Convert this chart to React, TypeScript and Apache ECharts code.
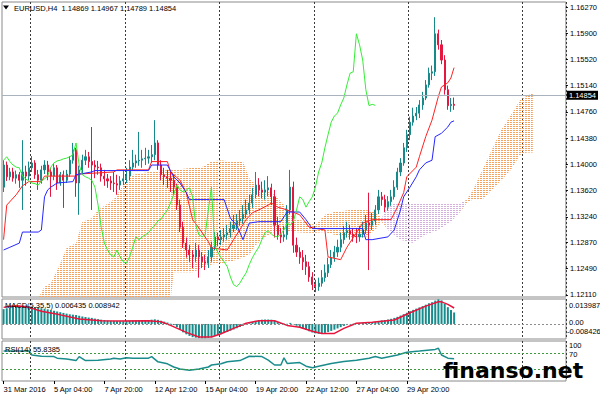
import React, { useEffect, useRef } from "react";
import * as echarts from "echarts";

const FONT = '"Liberation Sans", Arial, sans-serif';
const UP = "#16898b";
const DOWN = "#e3173f";

const symbol = "EURUSD";
const timeframe = "H4";
const SLOTS = 179;
const LABEL_EVERY = 16;
const timeLabels = ["31 Mar 2016", "5 Apr 04:00", "7 Apr 20:00", "12 Apr 12:00", "15 Apr 04:00", "19 Apr 20:00", "22 Apr 12:00", "27 Apr 04:00", "29 Apr 20:00"];
const separatorBars = [9, 39, 69, 99, 129, 165];
const priceTicks = [1.1627, 1.159, 1.1552, 1.1514, 1.1476, 1.1438, 1.14, 1.1362, 1.1324, 1.1287, 1.1249, 1.1211];
const currentPrice = 1.14854;

// [open, close, low, high]
const candles = [
  [1.1367, 1.1399, 1.136, 1.1406], [1.1399, 1.1382, 1.1376, 1.1404], [1.1382, 1.1389, 1.1377, 1.1395], [1.1389, 1.138, 1.1375, 1.1395],
  [1.138, 1.1385, 1.1372, 1.1391], [1.1385, 1.1377, 1.1366, 1.1389], [1.1377, 1.1389, 1.1334, 1.1435], [1.1389, 1.1383, 1.1369, 1.1398],
  [1.1383, 1.1395, 1.1377, 1.1404], [1.1395, 1.1402, 1.1389, 1.1412], [1.1402, 1.1385, 1.1379, 1.1406], [1.1385, 1.1377, 1.1363, 1.1392],
  [1.1377, 1.1392, 1.1372, 1.1398], [1.1392, 1.1399, 1.1386, 1.1406], [1.1399, 1.1389, 1.1377, 1.1405], [1.1389, 1.1383, 1.1353, 1.1395],
  [1.1383, 1.1395, 1.1377, 1.1402], [1.1395, 1.1373, 1.1363, 1.1399], [1.1373, 1.1385, 1.1369, 1.1389], [1.1385, 1.1377, 1.1337, 1.1391],
  [1.1377, 1.1386, 1.1373, 1.1392], [1.1386, 1.1406, 1.1382, 1.1412], [1.1406, 1.1421, 1.1401, 1.1431], [1.1421, 1.1373, 1.1353, 1.1424],
  [1.1373, 1.1392, 1.1327, 1.1398], [1.1392, 1.1406, 1.1385, 1.1414], [1.1406, 1.1411, 1.1399, 1.1421], [1.1411, 1.1404, 1.1395, 1.1418],
  [1.1404, 1.1399, 1.1334, 1.1454], [1.1399, 1.1396, 1.138, 1.1406], [1.1396, 1.1395, 1.1385, 1.1405], [1.1395, 1.1383, 1.1375, 1.1401],
  [1.1383, 1.1379, 1.1369, 1.1392], [1.1379, 1.1376, 1.1366, 1.1386], [1.1376, 1.1373, 1.1363, 1.1383], [1.1373, 1.1372, 1.136, 1.1389],
  [1.1372, 1.137, 1.1356, 1.1385], [1.137, 1.1376, 1.1363, 1.1383], [1.1376, 1.1379, 1.137, 1.1392], [1.1379, 1.1383, 1.1373, 1.1395],
  [1.1383, 1.1396, 1.1377, 1.1406], [1.1396, 1.1402, 1.1392, 1.1421], [1.1402, 1.1405, 1.1395, 1.1414], [1.1405, 1.1406, 1.1398, 1.1447],
  [1.1406, 1.1408, 1.1395, 1.1421], [1.1408, 1.1409, 1.1399, 1.1424], [1.1409, 1.1411, 1.1401, 1.1421], [1.1411, 1.1414, 1.1402, 1.1428],
  [1.1414, 1.1431, 1.1406, 1.1464], [1.1431, 1.1399, 1.1392, 1.1435], [1.1399, 1.1385, 1.1377, 1.1406], [1.1385, 1.1382, 1.137, 1.1395],
  [1.1382, 1.138, 1.1366, 1.1392], [1.138, 1.1377, 1.136, 1.1389], [1.1377, 1.1367, 1.1356, 1.1385], [1.1367, 1.1341, 1.1334, 1.1372],
  [1.1341, 1.1309, 1.1302, 1.1349], [1.1309, 1.1286, 1.1279, 1.1317], [1.1286, 1.1276, 1.1265, 1.1294], [1.1276, 1.1269, 1.1259, 1.1283],
  [1.1269, 1.1266, 1.125, 1.1276], [1.1266, 1.1276, 1.1259, 1.1286], [1.1276, 1.1266, 1.1236, 1.1283], [1.1266, 1.1259, 1.125, 1.1273],
  [1.1259, 1.1257, 1.1247, 1.1269], [1.1257, 1.1266, 1.125, 1.1276], [1.1266, 1.128, 1.1259, 1.1288], [1.128, 1.1295, 1.1276, 1.1302],
  [1.1295, 1.1291, 1.1282, 1.1301], [1.1291, 1.1295, 1.1283, 1.1305], [1.1295, 1.1298, 1.1288, 1.1308], [1.1298, 1.1301, 1.1291, 1.1312],
  [1.1301, 1.1307, 1.1294, 1.1317], [1.1307, 1.1312, 1.1302, 1.1327], [1.1312, 1.1318, 1.1305, 1.1328], [1.1318, 1.1321, 1.1311, 1.1334],
  [1.1321, 1.1328, 1.1314, 1.1341], [1.1328, 1.1334, 1.1322, 1.1349], [1.1334, 1.1344, 1.1328, 1.1356], [1.1344, 1.1356, 1.1337, 1.1366],
  [1.1356, 1.137, 1.1351, 1.1389], [1.137, 1.1363, 1.1354, 1.138], [1.1363, 1.136, 1.1351, 1.1375], [1.136, 1.1363, 1.1349, 1.1377],
  [1.1363, 1.1366, 1.1354, 1.1383], [1.1366, 1.1353, 1.1341, 1.1372], [1.1353, 1.1312, 1.1294, 1.1363], [1.1312, 1.1298, 1.1291, 1.1324],
  [1.1298, 1.1295, 1.1286, 1.1308], [1.1295, 1.1298, 1.1288, 1.1311], [1.1298, 1.1334, 1.1291, 1.1341], [1.1334, 1.1367, 1.1328, 1.1392],
  [1.1367, 1.1283, 1.1272, 1.1375], [1.1283, 1.1273, 1.1266, 1.1294], [1.1273, 1.1265, 1.1256, 1.128], [1.1265, 1.1259, 1.1247, 1.1276],
  [1.1259, 1.1252, 1.124, 1.1269], [1.1252, 1.1237, 1.123, 1.1259], [1.1237, 1.1226, 1.1218, 1.1244], [1.1226, 1.1223, 1.1215, 1.1233],
  [1.1223, 1.1228, 1.1217, 1.1236], [1.1228, 1.1236, 1.1223, 1.1247], [1.1236, 1.1243, 1.123, 1.1255], [1.1243, 1.1255, 1.1237, 1.1265],
  [1.1255, 1.1265, 1.125, 1.1276], [1.1265, 1.1273, 1.1259, 1.1282], [1.1273, 1.128, 1.1266, 1.1291], [1.128, 1.1291, 1.1273, 1.1301],
  [1.1291, 1.1301, 1.1285, 1.1311], [1.1301, 1.1304, 1.1294, 1.1317], [1.1304, 1.1299, 1.1291, 1.1312], [1.1299, 1.1296, 1.1288, 1.1308],
  [1.1296, 1.1295, 1.1286, 1.1308], [1.1295, 1.1299, 1.1288, 1.1311], [1.1299, 1.1305, 1.1294, 1.1317], [1.1305, 1.1315, 1.1299, 1.1327],
  [1.1315, 1.1312, 1.1247, 1.1359], [1.1312, 1.1318, 1.1305, 1.133], [1.1318, 1.1334, 1.1312, 1.1341], [1.1334, 1.1353, 1.1328, 1.1363],
  [1.1353, 1.1349, 1.134, 1.136], [1.1349, 1.1338, 1.1331, 1.1356], [1.1338, 1.1346, 1.1333, 1.1354], [1.1346, 1.1353, 1.134, 1.1363],
  [1.1353, 1.1367, 1.1349, 1.1377], [1.1367, 1.1389, 1.1363, 1.1395], [1.1389, 1.1402, 1.1383, 1.1409], [1.1402, 1.1424, 1.1398, 1.1431],
  [1.1424, 1.1443, 1.1418, 1.145], [1.1443, 1.1461, 1.1435, 1.1469], [1.1461, 1.147, 1.1456, 1.1482], [1.147, 1.1474, 1.1464, 1.1483],
  [1.1474, 1.1486, 1.1467, 1.1493], [1.1486, 1.1496, 1.1479, 1.1505], [1.1496, 1.1515, 1.1493, 1.1522], [1.1515, 1.1532, 1.1511, 1.154],
  [1.1532, 1.1534, 1.1522, 1.1543], [1.1534, 1.1589, 1.1528, 1.1613], [1.1589, 1.1573, 1.1566, 1.1595], [1.1573, 1.1551, 1.1545, 1.158],
  [1.1551, 1.1508, 1.1501, 1.1558], [1.1508, 1.1485, 1.1479, 1.1514], [1.1485, 1.14869, 1.1476, 1.1496], [1.14869, 1.14854, 1.14789, 1.14967],
];

// Ichimoku lines: [bar, price]
const tenkan = [
  [0, 1.1291], [1, 1.1341], [4, 1.1356], [6, 1.1369], [8, 1.1375], [12, 1.1375], [13, 1.1383], [23, 1.1383], [24, 1.1386], [35, 1.1389],
  [36, 1.1392], [46, 1.1392], [47, 1.1404], [52, 1.1404], [53, 1.1389], [56, 1.1377], [58, 1.1359], [60, 1.132], [62, 1.1308], [65, 1.1288],
  [66, 1.1279], [71, 1.1276], [73, 1.1291], [77, 1.132], [79, 1.133], [81, 1.1334], [84, 1.1341], [85, 1.1344], [87, 1.1338], [90, 1.1334],
  [94, 1.1327], [97, 1.1309], [102, 1.1305], [103, 1.1266], [107, 1.1262], [109, 1.128], [112, 1.1301], [114, 1.1315], [117, 1.132], [123, 1.132],
  [125, 1.1338], [127, 1.1359], [128, 1.1382], [131, 1.1396], [132, 1.1411], [134, 1.144], [136, 1.1464], [138, 1.1498], [139, 1.1512], [141, 1.1518],
  [142, 1.1525], [143, 1.154],
];
const kijun = [
  [0, 1.1276], [2, 1.128], [5, 1.1286], [6, 1.1302], [11, 1.1302], [12, 1.1305], [13, 1.1353], [14, 1.1363], [15, 1.1367], [17, 1.1373],
  [22, 1.1375], [23, 1.1385], [28, 1.1389], [29, 1.1391], [46, 1.1391], [47, 1.1399], [52, 1.1399], [54, 1.1382], [56, 1.1373], [58, 1.1359],
  [59, 1.1349], [70, 1.1349], [72, 1.1322], [74, 1.1312], [76, 1.1291], [78, 1.1315], [81, 1.1317], [88, 1.1317], [89, 1.1324], [90, 1.1331],
  [94, 1.1331], [96, 1.132], [98, 1.1307], [114, 1.1307], [115, 1.1291], [117, 1.1291], [122, 1.1295], [124, 1.1305], [126, 1.1334], [127, 1.1353],
  [129, 1.1367], [131, 1.1382], [132, 1.1392], [134, 1.1402], [136, 1.1406], [137, 1.144], [139, 1.1445], [141, 1.1454], [142, 1.1461], [143, 1.1463],
];
const CHIKOU_SHIFT = 25;
const cloudBars = [0, 10, 12, 13, 15, 18, 20, 23, 25, 28, 30, 35, 37, 39, 41, 46, 52, 54, 60, 63, 66, 69, 72, 76, 78, 80, 83, 86, 89, 92, 96, 99, 102, 105, 110, 115, 118, 120, 122, 126, 130, 134, 138, 142, 145, 147, 149, 152, 155, 158, 161, 164, 166, 168];
const senkouA = [1.1175, 1.1197, 1.1215, 1.1223, 1.1228, 1.1257, 1.1279, 1.1286, 1.1317, 1.1322, 1.1334, 1.1349, 1.1363, 1.1377, 1.1385, 1.1389, 1.1392, 1.1392, 1.1395, 1.1396, 1.1404, 1.1406, 1.1404, 1.1404, 1.138, 1.137, 1.1363, 1.1356, 1.1341, 1.1322, 1.1317, 1.1312, 1.1327, 1.1331, 1.1334, 1.1334, 1.1331, 1.1322, 1.1305, 1.1291, 1.1286, 1.1298, 1.1305, 1.1317, 1.1331, 1.1349, 1.1363, 1.1392, 1.1421, 1.145, 1.1471, 1.1493, 1.1499, 1.1503];
const senkouB = [1.1146, 1.1146, 1.1146, 1.1146, 1.1146, 1.1146, 1.1146, 1.1146, 1.1146, 1.1146, 1.1146, 1.1146, 1.1146, 1.1146, 1.1146, 1.1146, 1.116, 1.1244, 1.1244, 1.125, 1.1255, 1.1257, 1.1259, 1.1265, 1.1269, 1.1283, 1.1295, 1.1302, 1.1305, 1.1302, 1.1301, 1.1301, 1.1302, 1.1298, 1.1295, 1.1295, 1.1305, 1.1317, 1.1341, 1.1344, 1.1344, 1.1344, 1.1344, 1.1344, 1.1344, 1.1344, 1.1349, 1.1349, 1.1363, 1.1377, 1.1392, 1.1414, 1.1417, 1.1417];

const macdMain = [
  0.0083, 0.0088, 0.0093, 0.0097, 0.01, 0.0102, 0.0103, 0.0103, 0.0101, 0.0098,
  0.0095, 0.0092, 0.0088, 0.0085, 0.0082, 0.0078, 0.0074, 0.007, 0.0066, 0.0062, 0.0058,
  0.0054, 0.0052, 0.005, 0.0046, 0.0042, 0.0039, 0.0036, 0.0034,
  0.003, 0.0027, 0.0024, 0.0022, 0.002, 0.0018, 0.0017, 0.0016, 0.0015, 0.0015, 0.0016, 0.0018, 0.0019, 0.002, 0.002, 0.0021, 0.0021,
  0.0022, 0.0024, 0.0026, 0.0023, 0.0018, 0.0013, 0.0008,
  0.0002, -0.0006, -0.0018, -0.0032, -0.0047, -0.0058, -0.0067, -0.0074,
  -0.0077, -0.0079, -0.008, -0.008, -0.0078, -0.0074, -0.0068,
  -0.0063, -0.0057, -0.0051, -0.0045, -0.0038, -0.0031, -0.0024, -0.0017, -0.001,
  -0.0003, 0.0004, 0.0011, 0.0018, 0.0022, 0.0024, 0.0025, 0.0025, 0.0024, 0.0018,
  0.001, 0.0005, 0.0001, 0.0001, 0.0006, -0.0002, -0.001, -0.0018, -0.0026, -0.0033,
  -0.0041, -0.0048, -0.0053, -0.0055, -0.0054, -0.005, -0.0045, -0.0039,
  -0.0032, -0.0025, -0.0018, -0.0011, -0.0006, -0.0002, 0.0001, 0.0003,
  0.0004, 0.0006, 0.0008, 0.0008, 0.001, 0.0013, 0.0017, 0.002,
  0.0022, 0.0025, 0.0029, 0.0034, 0.004, 0.0047, 0.0055, 0.0063, 0.0071, 0.0079,
  0.0086, 0.0093, 0.01, 0.0108, 0.0116, 0.0122, 0.0131,
  0.0138, 0.0132, 0.0112, 0.0094, 0.0078, 0.006435,
];
const macdSignal = [
  [0, 0.0093], [2, 0.0099], [5, 0.01], [8, 0.0093], [12, 0.0071], [18, 0.0051], [24, 0.0028], [31, 0.0018], [37, 0.0017], [46, 0.0018],
  [50, 0.0012], [53, -0.0008], [58, -0.0047], [62, -0.0073], [66, -0.0073], [69, -0.0055], [73, -0.0025], [77, 0.0004], [81, 0.0018], [86, 0.0018],
  [90, -0.0008], [94, -0.0018], [98, -0.0041], [101, -0.0053], [105, -0.0053], [108, -0.0025], [112, 0.0004], [117, 0.001], [124, 0.0022], [129, 0.0063],
  [134, 0.01], [138, 0.0124], [139, 0.0124], [141, 0.011], [143, 0.008942],
];
const macdMax = 0.013987;
const macdMin = -0.008426;

const rsi = [
  [0, 75], [8, 75], [9, 65], [12, 62], [16, 61], [17, 57], [20, 55], [23, 51], [24, 61], [26, 51], [30, 52], [34, 55], [35, 57], [37, 55],
  [39, 58], [41, 57], [46, 57], [47, 61], [49, 48], [52, 43], [54, 35], [56, 30], [59, 27], [62, 30], [65, 35], [66, 40], [69, 43], [71, 48],
  [75, 51], [78, 62], [82, 61], [84, 52], [86, 40], [88, 40], [89, 58], [90, 44], [94, 46], [96, 37], [98, 33], [100, 37], [104, 44], [108, 49],
  [112, 52], [116, 57], [118, 61], [120, 57], [125, 65], [128, 72], [132, 75], [137, 79], [138, 82], [139, 65], [141, 57], [143, 55.8385],
];
const rsiLevels = [70, 30];

function dots(color: string) {
  const c = document.createElement("canvas");
  c.width = 3;
  c.height = 2;
  const ctx = c.getContext("2d") as CanvasRenderingContext2D;
  ctx.fillStyle = color;
  ctx.fillRect(0, 0, 2, 1);
  return { image: c, repeat: "repeat", imageWidth: 3, imageHeight: 2 } as any;
}

function buildOption() {
  const cats = Array.from({ length: SLOTS }, (_, i) => String(i));
  const labelInterval = (i: number) => i % LABEL_EVERY === 0 && i / LABEL_EVERY < timeLabels.length;
  const sepInterval = (i: number) => separatorBars.includes(i);
  const last = candles[candles.length - 1];
  const header = `${symbol},${timeframe}  ${last[0].toFixed(5)} ${last[3].toFixed(5)} ${last[2].toFixed(5)} ${last[1].toFixed(5)}`;
  const chikou = candles.slice(CHIKOU_SHIFT).map((c, j) => [j, c[1]]);
  const kumoBase = cloudBars.map((b, i) => [b, Math.min(senkouA[i], senkouB[i])]);
  const kumoUp = cloudBars.map((b, i) => [b, Math.max(senkouA[i] - senkouB[i], 0)]);
  const kumoDown = cloudBars.map((b, i) => [b, Math.max(senkouB[i] - senkouA[i], 0)]);
  const small = `7.5px ${FONT}`;

  const gridBase = { left: 2, right: 34, show: true, borderColor: "#8a8a8a", borderWidth: 1, backgroundColor: "#fff" };
  const xAx = (g: number) => ({
    type: "category",
    gridIndex: g,
    data: cats,
    boundaryGap: true,
    axisLine: { show: false },
    axisTick: g === 2 ? { show: true, interval: labelInterval, alignWithLabel: true, length: 3, lineStyle: { color: "#000" } } : { show: false },
    axisLabel: g === 2
      ? { show: true, interval: labelInterval, align: "left", margin: 4, fontSize: 7.5, color: "#000", fontFamily: FONT, formatter: (_v: string, i: number) => timeLabels[i / LABEL_EVERY] ?? "" }
      : { show: false },
    splitLine: { show: true, interval: sepInterval, lineStyle: { color: "#3a3a3a", type: [2, 2], width: 1 } },
  });

  const noLine = { width: 0, opacity: 0 };

  return {
    animation: false,
    backgroundColor: "#ffffff",
    grid: [
      { ...gridBase, top: 2, height: 295 },
      { ...gridBase, top: 299, height: 40 },
      { ...gridBase, top: 341, height: 40 },
    ],
    xAxis: [xAx(0), xAx(1), xAx(2)],
    yAxis: [
      {
        type: "value", gridIndex: 0, position: "right", min: 1.1208, max: 1.1635, scale: true,
        splitLine: { show: false }, axisLine: { show: false },
        axisTick: { show: true, customValues: priceTicks, length: 2, lineStyle: { color: "#000" } },
        axisLabel: { customValues: priceTicks, formatter: (v: number) => v.toFixed(5), margin: 4, fontSize: 7.5, color: "#000", fontFamily: FONT },
      },
      { type: "value", gridIndex: 1, min: macdMin, max: macdMax, show: false },
      { type: "value", gridIndex: 2, min: 0, max: 100, show: false },
    ],
    series: [
      { type: "line", xAxisIndex: 0, yAxisIndex: 0, stack: "kumo", data: kumoBase, symbol: "none", lineStyle: noLine, silent: true, z: 1 },
      { type: "line", xAxisIndex: 0, yAxisIndex: 0, stack: "kumo", data: kumoUp, symbol: "none", lineStyle: noLine, areaStyle: { color: dots("#f4a460"), opacity: 1 }, silent: true, z: 1 },
      { type: "line", xAxisIndex: 0, yAxisIndex: 0, stack: "kumo", data: kumoDown, symbol: "none", lineStyle: noLine, areaStyle: { color: dots("#d4b0dc"), opacity: 1 }, silent: true, z: 1 },
      {
        type: "candlestick", xAxisIndex: 0, yAxisIndex: 0, data: candles, barWidth: 1.6, z: 3,
        itemStyle: { color: UP, color0: DOWN, borderColor: UP, borderColor0: DOWN, borderWidth: 1 },
        markLine: {
          silent: true, symbol: ["none", "none"], animation: false,
          data: [{ yAxis: currentPrice }],
          lineStyle: { color: "#a9b3be", type: "solid", width: 1 },
          label: { show: true, position: "end", distance: 1, formatter: currentPrice.toFixed(5), backgroundColor: "#000", color: "#fff", padding: [1, 2, 0, 2], fontSize: 7.5, fontFamily: FONT },
        },
      },
      { type: "line", xAxisIndex: 0, yAxisIndex: 0, data: tenkan, symbol: "none", lineStyle: { color: "#ff2222", width: 1 }, z: 4, silent: true },
      { type: "line", xAxisIndex: 0, yAxisIndex: 0, data: kijun, symbol: "none", lineStyle: { color: "#2626ff", width: 1 }, z: 4, silent: true },
      { type: "line", xAxisIndex: 0, yAxisIndex: 0, data: chikou, symbol: "none", lineStyle: { color: "#33ee33", width: 1 }, z: 4, silent: true },
      {
        type: "bar", xAxisIndex: 1, yAxisIndex: 1, data: macdMain, barWidth: 2, itemStyle: { color: "#188c8c" }, silent: true,
        markLine: { silent: true, symbol: ["none", "none"], data: [{ yAxis: 0 }], label: { show: false }, lineStyle: { color: "#8c8c8c", type: [2, 2], width: 1 } },
      },
      { type: "line", xAxisIndex: 1, yAxisIndex: 1, data: macdSignal, symbol: "none", lineStyle: { color: "#e8143c", width: 1.5 }, silent: true, z: 4 },
      {
        type: "line", xAxisIndex: 2, yAxisIndex: 2, data: rsi, symbol: "none", lineStyle: { color: "#1a8c8c", width: 1.5 }, silent: true, z: 4,
        markLine: { silent: true, symbol: ["none", "none"], data: rsiLevels.map((v) => ({ yAxis: v })), label: { show: false }, lineStyle: { color: "#3d9b3d", type: [2, 2], width: 1 } },
      },
    ],
    graphic: [
      { type: "polygon", shape: { points: [[3, 5.5], [9, 5.5], [6, 9.5]] }, style: { fill: "#000" }, z: 100 },
      { type: "text", x: 14, y: 8, z: 100, style: { text: header, font: small, fill: "#000", verticalAlign: "middle" } },
      { type: "text", x: 5, y: 305.5, z: 100, style: { text: `MACD(5,35,5) ${macdMain[macdMain.length - 1].toFixed(6)} ${macdSignal[macdSignal.length - 1][1].toFixed(6)}`, font: small, fill: "#000", verticalAlign: "middle" } },
      { type: "text", x: 5, y: 349, z: 100, style: { text: `RSI(14) ${rsi[rsi.length - 1][1].toFixed(4)}`, font: small, fill: "#000", verticalAlign: "middle" } },
      { type: "text", x: 569, y: 305, z: 100, style: { text: macdMax.toFixed(6), font: small, fill: "#000", verticalAlign: "middle" } },
      { type: "text", x: 569, y: 322, z: 100, style: { text: "0.00", font: small, fill: "#000", verticalAlign: "middle" } },
      { type: "text", x: 567, y: 331, z: 100, style: { text: macdMin.toFixed(6), font: small, fill: "#000", verticalAlign: "middle" } },
      { type: "text", x: 569, y: 345, z: 100, style: { text: "100", font: small, fill: "#000", verticalAlign: "middle" } },
      { type: "text", x: 569, y: 354.5, z: 100, style: { text: "70", font: small, fill: "#000", verticalAlign: "middle" } },
      { type: "text", x: 443, y: 370, z: 200, style: { text: "finanso.net", font: `bold 22px "DejaVu Sans", sans-serif`, fill: "#000", verticalAlign: "middle" } },
    ],
  };
}

export default function App() {
  const ref = useRef<HTMLDivElement>(null);
  useEffect(() => {
    document.body.style.margin = "0";
    const chart = echarts.init(ref.current as HTMLDivElement, null, { renderer: "svg" });
    chart.setOption(buildOption() as any);
    return () => chart.dispose();
  }, []);
  return <div ref={ref} style={{ width: 600, height: 398 }} />;
}
